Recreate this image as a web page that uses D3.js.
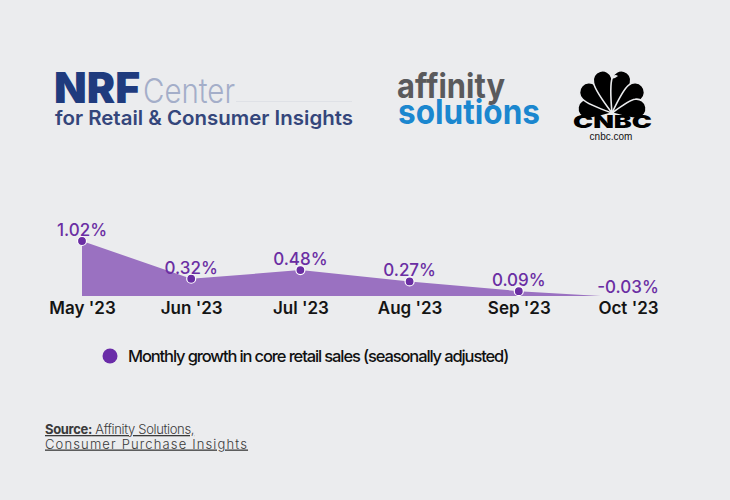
<!DOCTYPE html>
<html>
<head>
<meta charset="utf-8">
<script src="https://cdn.jsdelivr.net/npm/d3@7"></script>
<style>
  html, body { margin: 0; padding: 0; background: #ebecee; }
  svg { display: block; }
</style>
</head>
<body>
<script>
// ---- data ----
const months = ["May '23", "Jun '23", "Jul '23", "Aug '23", "Sep '23", "Oct '23"];
const growth = [1.02, 0.32, 0.48, 0.27, 0.09, -0.03];
const valueLabels = ["1.02%", "0.32%", "0.48%", "0.27%", "0.09%", "-0.03%"];
const seriesName = "Monthly growth in core retail sales (seasonally adjusted)";

const W = 730, H = 500;
const svg = d3.select("body").append("svg").attr("width", W).attr("height", H);
svg.append("rect").attr("width", W).attr("height", H).attr("fill", "#ebecee");

const FONT = "Inter, 'Open Sans', sans-serif";

function fitLS(sel, target) {
  const n = sel.text().length;
  const w = sel.node().getComputedTextLength();
  sel.attr("letter-spacing", ((target - w) / n).toFixed(2));
}
function stretch(sel, target) {
  sel.attr("textLength", target).attr("lengthAdjust", "spacingAndGlyphs");
}

// ---- logos ----
const logo = svg.append("g");
const nrf = logo.append("text").attr("x", 54).attr("y", 103).attr("font-family", FONT)
  .attr("font-weight", 900).attr("font-size", 43).attr("fill", "#1f3b7e").text("NRF");
stretch(nrf, 86);
const center = logo.append("text").attr("x", 143).attr("y", 103).attr("font-family", FONT)
  .attr("font-weight", 300).attr("font-size", 34).attr("fill", "#a4aec9").text("Center");
stretch(center, 92);
logo.append("line").attr("x1", 236).attr("x2", 352).attr("y1", 101.5).attr("y2", 101.5)
  .attr("stroke", "#dfe1e6").attr("stroke-width", 1);
const fr = logo.append("text").attr("x", 55).attr("y", 125).attr("font-family", FONT)
  .attr("font-weight", 600).attr("font-size", 20).attr("fill", "#34467b")
  .text("for Retail & Consumer Insights");
stretch(fr, 298);

const aff = logo.append("text").attr("x", 397).attr("y", 98).attr("font-family", FONT)
  .attr("font-weight", 700).attr("font-size", 34).attr("fill", "#5a5a5c").text("affinity");
stretch(aff, 108);
const sol = logo.append("text").attr("x", 398).attr("y", 124).attr("font-family", FONT)
  .attr("font-weight", 700).attr("font-size", 34).attr("fill", "#1b87cf").text("solutions");
stretch(sol, 142);

// CNBC peacock
const pk = logo.append("g").attr("transform", "translate(612,113)");
const angles = [-80, -48, -16, 16, 48, 80];
const lens = [34, 40, 43, 43, 40, 34];
angles.forEach((a, i) => {
  const L = lens[i];
  pk.append("path")
    .attr("d", `M0,0 C-5,-${L*0.3} -10,-${L*0.6} -9.5,-${L-9} A9.5,9.5 0 0 1 9.5,-${L-9} C10,-${L*0.6} 5,-${L*0.3} 0,0 Z`)
    .attr("transform", `rotate(${a})`)
    .attr("fill", "#000").attr("stroke", "#ebecee").attr("stroke-width", 1.6);
});
pk.append("path").attr("d", "M-1,-34 q3,-6 7,-3 l-3,2 z").attr("fill", "#ebecee");
const cn = logo.append("text").attr("x", 573).attr("y", 128)
  .attr("font-family", FONT).attr("font-weight", 900)
  .attr("font-size", 17).attr("fill", "#000").text("CNBC");
stretch(cn, 79);
logo.append("text").attr("x", 611).attr("y", 140).attr("text-anchor", "middle")
  .attr("font-family", "'Liberation Sans', Arial, sans-serif")
  .attr("font-size", 10).attr("fill", "#111").text("cnbc.com");

// ---- chart ----
const x = d3.scalePoint().domain(months).range([82, 628]);
const y = d3.scaleLinear().domain([0, 1.02]).range([296, 241]);

const data = months.map((m, i) => ({ m, v: growth[i], label: valueLabels[i] }));

svg.append("clipPath").attr("id", "above0")
  .append("rect").attr("x", 0).attr("y", 0).attr("width", W).attr("height", y(0));

const area = d3.area().x(d => x(d.m)).y0(y(0)).y1(d => y(d.v));
svg.append("path").datum(data).attr("d", area)
  .attr("fill", "#9a71c1").attr("clip-path", "url(#above0)");

svg.selectAll(".dot").data(data.filter(d => d.v > 0)).join("circle")
  .attr("cx", d => x(d.m)).attr("cy", d => y(d.v)).attr("r", 4.5)
  .attr("fill", "#6a2ea3").attr("stroke", "#ffffff").attr("stroke-width", 1.2);

svg.selectAll(".vlabel").data(data).join("text")
  .attr("x", d => x(d.m)).attr("y", d => y(d.v) - 5)
  .attr("text-anchor", "middle").attr("font-family", FONT).attr("font-weight", 500)
  .attr("font-size", 17).attr("fill", "#6a2ea3")
  .text(d => d.label);

// x axis (labels only)
const xAxis = d3.axisBottom(x).tickSize(0).tickPadding(0);
const ax = svg.append("g").attr("transform", "translate(0,300)").call(xAxis);
ax.select(".domain").remove();
ax.selectAll("text").attr("font-family", FONT).attr("font-weight", 600)
  .attr("font-size", 17).attr("fill", "#141414").attr("dy", "0.85em");

// legend
svg.append("circle").attr("cx", 110).attr("cy", 356).attr("r", 7.5).attr("fill", "#6a2ca8");
const lg = svg.append("text").attr("x", 128).attr("y", 362).attr("font-family", FONT)
  .attr("font-weight", 500).attr("font-size", 16.5).attr("fill", "#111").text(seriesName);
fitLS(lg, 380);

// source
const src1 = svg.append("text").attr("x", 45).attr("y", 434).attr("font-family", FONT)
  .attr("font-size", 13).attr("fill", "#3a3a3a").attr("text-decoration", "underline");
src1.append("tspan").attr("font-weight", 700).text("Source:");
src1.append("tspan").attr("font-weight", 300).text(" Affinity Solutions,");
fitLS(src1, 149);
const src2 = svg.append("text").attr("x", 45).attr("y", 448.5).attr("font-family", FONT)
  .attr("font-weight", 300).attr("font-size", 13).attr("fill", "#3a3a3a")
  .attr("text-decoration", "underline").text("Consumer Purchase Insights");
fitLS(src2, 203);
</script>
</body>
</html>
